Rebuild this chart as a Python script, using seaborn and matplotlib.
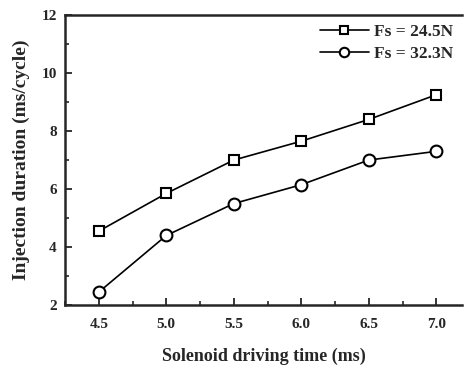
import matplotlib
matplotlib.use("Agg")
import matplotlib.pyplot as plt
import seaborn as sns
import pandas as pd
from matplotlib.ticker import MultipleLocator

drive_time = [4.5, 5.0, 5.5, 6.0, 6.5, 7.0]
fs_245 = [4.55, 5.85, 7.0, 7.65, 8.4, 9.25]
fs_323 = [2.45, 4.4, 5.5, 6.15, 7.0, 7.3]
labels = ["Fs = 24.5N", "Fs = 32.3N"]

sns.set_style("ticks")
plt.rcParams['font.family'] = ['Liberation Serif', 'DejaVu Serif']

fig = plt.figure(figsize=(4.68, 3.65), dpi=100)
ax = fig.add_axes([0.139, 0.164, 0.848, 0.795])

df1 = pd.DataFrame({"t": drive_time, "v": fs_245})
df2 = pd.DataFrame({"t": drive_time, "v": fs_323})
sns.lineplot(data=df1, x="t", y="v", ax=ax, color="black", marker="s", markersize=7,
             markerfacecolor="white", markeredgecolor="black", markeredgewidth=1.5,
             linewidth=1.2, label=labels[0])
sns.lineplot(data=df2, x="t", y="v", ax=ax, color="black", marker="o", markersize=8.5,
             markerfacecolor="white", markeredgecolor="black", markeredgewidth=1.5,
             linewidth=1.2, label=labels[1])

ax.set_xlim(4.25, 7.19)
ax.set_ylim(2, 12)
ax.set_xticks(drive_time)
ax.set_xticklabels(["4.5", "5.0", "5.5", "6.0", "6.5", "7.0"])
ax.set_yticks([2, 4, 6, 8, 10, 12])
ax.xaxis.set_minor_locator(MultipleLocator(0.25))
ax.yaxis.set_minor_locator(MultipleLocator(1))
ax.tick_params(which="both", direction="in", top=False, right=False)
ax.tick_params(which="major", length=5, width=1.3, labelsize=11)
ax.tick_params(axis="x", which="major", pad=9)
ax.tick_params(axis="y", which="major", pad=6)
ax.tick_params(which="minor", length=3, width=1.2)
for lab in ax.get_xticklabels() + ax.get_yticklabels():
    lab.set_fontweight("bold")

for s in ["left", "bottom", "top"]:
    ax.spines[s].set_linewidth(1.8)
ax.spines["right"].set_visible(False)

ax.set_xlabel("Solenoid driving time (ms)", fontsize=13, fontweight="bold", labelpad=12)
ax.set_ylabel("Injection duration (ms/cycle)", fontsize=14, fontweight="bold", labelpad=8)

leg = ax.legend(loc="upper right", frameon=False, prop={"weight": "bold", "size": 12.5},
                handlelength=2.8, borderaxespad=0.1, handletextpad=0.3, labelspacing=0.35,
                markerscale=0.8)

fig.savefig("out.png", dpi=100)
